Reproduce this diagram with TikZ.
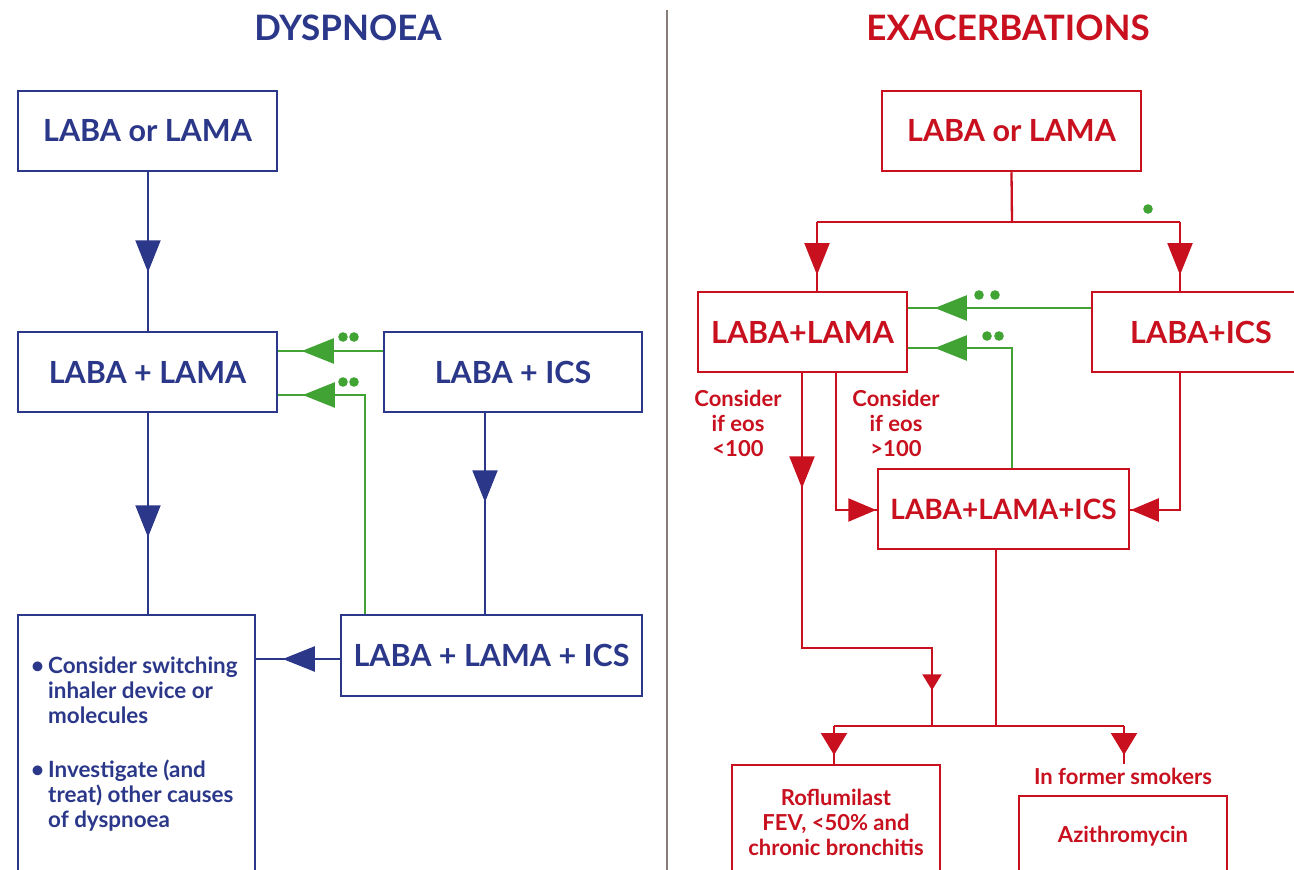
\documentclass[tikz,border=0pt]{standalone}
\usepackage{fontspec}
\setmainfont{Lato}
\usetikzlibrary{arrows.meta,decorations.markings}
\definecolor{navy}{RGB}{43,56,138}
\definecolor{cred}{RGB}{200,16,30}
\definecolor{cgreen}{RGB}{64,163,52}
\definecolor{divgray}{RGB}{135,125,120}
\tikzset{
  bigtri/.tip={Triangle[length=32pt,width=25pt]},
  midtri/.tip={Triangle[length=28pt,width=23pt]},
  smalltri/.tip={Triangle[length=16pt,width=19pt]},
  shorttri/.tip={Triangle[length=22pt,width=26pt]},
  tipat/.style 2 args={postaction={decorate,decoration={markings,mark=at position #2 with {\arrow{#1}}}}},
  boxL/.style={draw=navy, line width=2.5pt, text=navy, font=\bfseries\fontsize{30.5}{34}\selectfont, inner sep=0pt},
  boxR/.style={draw=cred, line width=2.5pt, text=cred, font=\bfseries\fontsize{30.5}{34}\selectfont, inner sep=0pt},
  titleL/.style={text=navy, font=\bfseries\fontsize{35}{38}\selectfont, inner sep=0pt},
  titleR/.style={text=cred, font=\bfseries\fontsize{35}{38}\selectfont, inner sep=0pt},
  ltext/.style={text=navy, font=\bfseries\fontsize{22.4}{25}\selectfont, inner sep=0pt},
  rtext/.style={text=cred, font=\bfseries\fontsize{22}{25}\selectfont, align=center, inner sep=0pt},
  lconn/.style={draw=navy, line width=2.2pt},
  rconn/.style={draw=cred, line width=2.3pt},
  gconn/.style={draw=cgreen, line width=2.2pt},
}
\begin{document}
\begin{tikzpicture}[x=1pt,y=-1pt]
\clip (0,0) rectangle (1294,870);
\fill[white] (0,0) rectangle (1294,870);

% titles and divider
\node[titleL, anchor=base] (tL) at (348,40) {DYSPNOEA};
\node[titleR, anchor=base] (tR) at (1008,40) {EXACERBATIONS};
\coordinate (dTop) at (667,10);
\coordinate (dBot) at (667,870);
\draw[divgray, line width=2pt] (dTop) -- (dBot);

% ---------- left ----------
\node[boxL, minimum width=259pt, minimum height=80pt] (A1) at (147.5,131) {LABA or LAMA};
\node[boxL, minimum width=259pt, minimum height=80pt] (A2) at (147.5,372) {LABA + LAMA};
\node[boxL, minimum width=258pt, minimum height=80pt] (A3) at (513,372) {LABA + ICS};
\node[boxL, minimum width=301pt, minimum height=81pt] (A4) at (491.5,655.5) {LABA + LAMA + ICS};
\node[boxL, minimum width=237pt, minimum height=275pt] (A5) at (136.5,752.5) {};
\node[ltext, anchor=base west] (A5t) at (31,673) {\begin{tabular}[t]{@{}l@{\hspace{4pt}}l@{}}
\textbullet & Consider switching\\
 & inhaler device or\\
 & molecules\\[29pt]
\textbullet & Investigate (and\\
 & treat) other causes\\
 & of dyspnoea
\end{tabular}};

\draw[lconn, tipat={bigtri}{100pt}] ([xshift=0.5pt]A1.south) -- ([xshift=0.5pt]A2.north);
\draw[lconn, tipat={bigtri}{124pt}] ([xshift=0.5pt]A2.south) -- ([xshift=0.5pt]A2.south |- A5.north);
\draw[lconn, tipat={bigtri}{89pt}] ([xshift=-28pt]A3.south) -- ([xshift=-28pt]A3.south |- A4.north);
\draw[lconn, tipat={bigtri}{57pt}] ([yshift=-3.5pt]A4.west) -- ([yshift=-3.5pt]A4.west -| A5.east);

\draw[gconn, tipat={bigtri}{81pt}] ([yshift=21pt]A3.west) -- ([yshift=21pt]A3.west -| A2.east);
\draw[gconn, tipat={bigtri}{281pt}] ([xshift=-126.5pt]A4.north) |- ([yshift=-23pt]A2.east);
\fill[cgreen] (343,337) circle (4.8pt) (354,337) circle (4.8pt);
\fill[cgreen] (343,382) circle (4.8pt) (354,382) circle (4.8pt);

% ---------- right ----------
\node[boxR, minimum width=259pt, minimum height=80pt] (B1) at (1011.5,131) {LABA or LAMA};
\node[boxR, minimum width=209pt, minimum height=80pt] (B2) at (802.5,332) {LABA+LAMA};
\node[boxR, minimum width=218pt, minimum height=80pt] (B3) at (1201,332) {LABA+ICS};
\node[boxR, minimum width=251pt, minimum height=80pt, font=\bfseries\fontsize{28}{32}\selectfont] (B4) at (1003.5,509) {LABA+LAMA+ICS};
\node[boxR, minimum width=208pt, minimum height=125pt] (B5) at (836,827.5) {};
\node[boxR, minimum width=208pt, minimum height=94pt] (B6) at (1123,843) {};
\node[rtext] (B5t) at (836,822) {Roflumilast\\FEV, <50\% and\\chronic bronchitis};
\node[rtext] (B6t) at (1123,836) {Azithromycin};
\node[rtext] (smk) at (1123,776) {In former smokers};
\node[rtext] (c1) at (738,423) {Consider\\if eos\\<100};
\node[rtext] (c2) at (896,423) {Consider\\if eos\\>100};

\coordinate (jT) at (1012,222);
\coordinate (jTL) at (817,222);
\coordinate (jTR) at (1180,222);
\draw[rconn] (B1.south) -- (jT);
\draw[rconn] (jTL) -- (jTR);
\draw[rconn, tipat={bigtri}{53pt}] (jTL) -- (jTL |- B2.north);
\draw[rconn, tipat={bigtri}{53pt}] (jTR) -- (jTR |- B3.north);
\fill[cgreen] (1148,209) circle (4.8pt);

\draw[gconn, tipat={bigtri}{156pt}] ([yshift=24pt]B3.west) -- ([yshift=24pt]B3.west -| B2.east);
\draw[gconn, tipat={bigtri}{197pt}] ([xshift=8.5pt]B4.north) |- ([yshift=-16pt]B2.east);
\fill[cgreen] (979,295) circle (4.8pt) (995,295) circle (4.8pt);
\fill[cgreen] (987,336) circle (4.8pt) (999,336) circle (4.8pt);

\draw[rconn, tipat={midtri}{177pt}] ([xshift=33.5pt]B2.south) |- ([yshift=-1pt]B4.west);
\draw[rconn, tipat={midtri}{186pt}] (jTR |- B3.south) |- ([yshift=-1pt]B4.east);

\coordinate (k2) at (932,648);
\coordinate (jB) at (932,726);
\draw[rconn, tipat={bigtri}{115pt}, tipat={smalltri}{447pt}] ([xshift=-0.5pt]B2.south) |- (k2) -- (jB);

\coordinate (jC) at (996,726);
\draw[rconn] ([xshift=-7.5pt]B4.south) -- (jC);
\coordinate (jBL) at (834,726);
\coordinate (jBR) at (1124,726);
\coordinate (jS) at (1124,764);
\draw[rconn] (jBL) -- (jBR);
\draw[rconn, tipat={shorttri}{29pt}] (jBL) -- (jBL |- B5.north);
\draw[rconn, tipat={shorttri}{29pt}] (jBR) -- (jS);
\end{tikzpicture}
\end{document}
